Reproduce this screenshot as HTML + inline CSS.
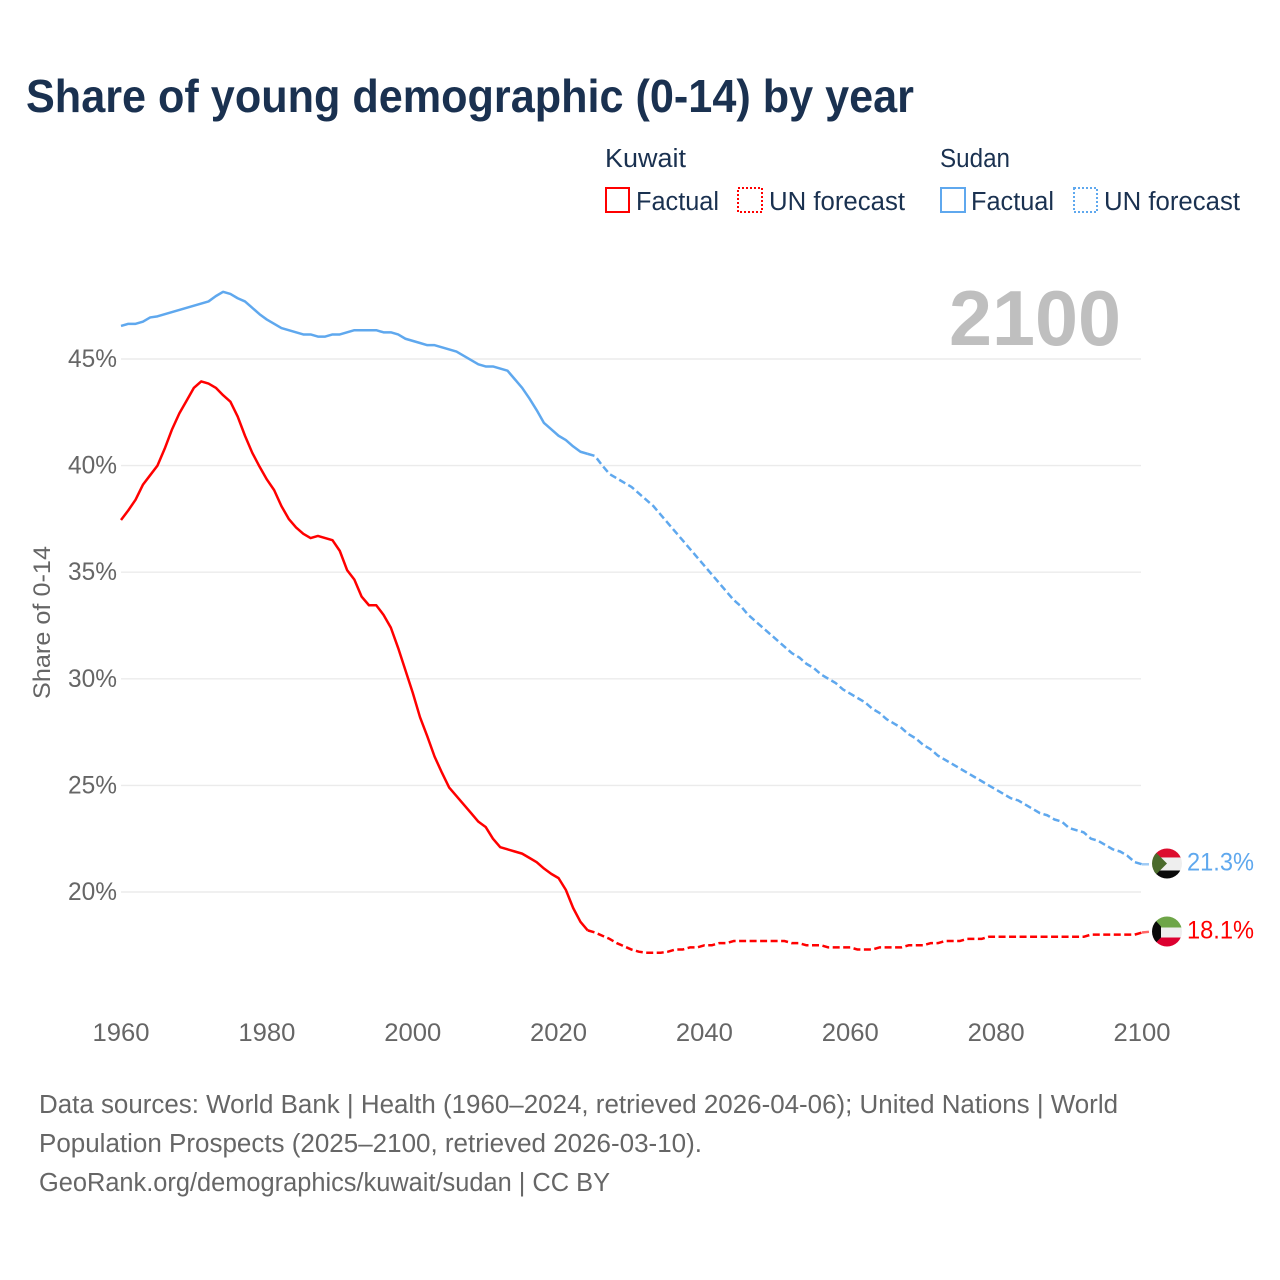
<!DOCTYPE html>
<html lang="en">
<head>
<meta charset="utf-8">
<title>Share of young demographic (0-14) by year</title>
<style>
html,body{margin:0;padding:0;background:#fff;width:1280px;height:1280px;overflow:hidden}
svg{display:block}
text{font-family:"Liberation Sans",sans-serif}
.legend{font-size:25.5px;fill:#1a3150}
.tick{font-size:25px;fill:#666}
.src{font-size:25.5px;fill:#666}
</style>
</head>
<body>
<svg id="chart" width="1280" height="1280" viewBox="0 0 1280 1280" xmlns="http://www.w3.org/2000/svg">
  <defs>
    <clipPath id="flag-clip"><circle cx="0" cy="0" r="15"/></clipPath>
  </defs>
  <rect width="1280" height="1280" fill="#fff"/>
  <text x="26" y="112" font-size="46" font-weight="700" fill="#1a3150" textLength="888" lengthAdjust="spacingAndGlyphs">Share of young demographic (0-14) by year</text>

  <g>
    <text class="legend" x="605" y="167" textLength="81" lengthAdjust="spacingAndGlyphs">Kuwait</text>
    <text class="legend" x="940" y="167" textLength="70" lengthAdjust="spacingAndGlyphs">Sudan</text>
    <g>
      <rect x="606" y="188" width="23" height="24" fill="none" stroke="#ff0000" stroke-width="2"/>
      <text class="legend" x="636" y="210" textLength="83" lengthAdjust="spacingAndGlyphs">Factual</text>
    </g>
    <g>
      <rect x="738" y="188" width="24" height="24" fill="none" stroke="#ff0000" stroke-width="2" stroke-dasharray="2 2"/>
      <text class="legend" x="769" y="210" textLength="136" lengthAdjust="spacingAndGlyphs">UN forecast</text>
    </g>
    <g>
      <rect x="941" y="188" width="24" height="24" fill="none" stroke="#5fa8ee" stroke-width="2"/>
      <text class="legend" x="971" y="210" textLength="83" lengthAdjust="spacingAndGlyphs">Factual</text>
    </g>
    <g>
      <rect x="1074" y="188" width="23" height="24" fill="none" stroke="#5fa8ee" stroke-width="2" stroke-dasharray="2 2"/>
      <text class="legend" x="1104" y="210" textLength="136" lengthAdjust="spacingAndGlyphs">UN forecast</text>
    </g>
  </g>

  <text x="949" y="345" font-size="78" font-weight="700" fill="#bfbfbf" textLength="172" lengthAdjust="spacingAndGlyphs">2100</text>

  <g id="grid"></g>
  <g id="y-labels"></g>
  <g id="x-labels"></g>
  <text transform="translate(50,699) rotate(-90)" font-size="24" fill="#666" textLength="153" lengthAdjust="spacingAndGlyphs">Share of 0-14</text>

  <g id="series"></g>

  <g id="flag-sudan">
    <g clip-path="url(#flag-clip)">
      <rect x="-16" y="-16" width="32" height="10" fill="#dc0d2e"/>
      <rect x="-16" y="-6" width="32" height="13" fill="#eeeeee"/>
      <rect x="-16" y="7" width="32" height="9" fill="#0a0a0a"/>
      <polygon points="-16,-16 0,0 -16,16" fill="#4b6b2c"/>
    </g>
  </g>
  <g id="flag-kuwait">
    <g clip-path="url(#flag-clip)">
      <rect x="-16" y="-16" width="32" height="12" fill="#6ea548"/>
      <rect x="-16" y="-4" width="32" height="10" fill="#eeeeee"/>
      <rect x="-16" y="6" width="32" height="10" fill="#dc0030"/>
      <polygon points="-16,-16 -6,-5 -6,6 -16,16" fill="#0a0a0a"/>
    </g>
  </g>
  <text id="value-sudan" x="1187" font-size="25" fill="#5fa8ee" textLength="67" lengthAdjust="spacingAndGlyphs"></text>
  <text id="value-kuwait" x="1187" font-size="25" fill="#ff0000" textLength="67" lengthAdjust="spacingAndGlyphs"></text>

  <g>
    <text class="src" x="39" y="1113" textLength="1079" lengthAdjust="spacingAndGlyphs">Data sources: World Bank | Health (1960–2024, retrieved 2026-04-06); United Nations | World</text>
    <text class="src" x="39" y="1152" textLength="663" lengthAdjust="spacingAndGlyphs">Population Prospects (2025–2100, retrieved 2026-03-10).</text>
    <text class="src" x="39" y="1191" textLength="571" lengthAdjust="spacingAndGlyphs">GeoRank.org/demographics/kuwait/sudan | CC BY</text>
  </g>
</svg>

<script>
const firstYear = 1960;
const forecastStartYear = 2025;
const xTicks = [1960, 1980, 2000, 2020, 2040, 2060, 2080, 2100];
const yTicks = [20, 25, 30, 35, 40, 45];

const kuwaitFactual = [
  37.45, 37.9, 38.4, 39.1, 39.55, 40.0, 40.8, 41.7, 42.45, 43.05,
  43.65, 43.95, 43.85, 43.65, 43.3, 43.0, 42.3, 41.4, 40.6, 39.95,
  39.35, 38.85, 38.1, 37.5, 37.1, 36.8, 36.6, 36.7, 36.6, 36.5,
  36.0, 35.1, 34.65, 33.85, 33.45, 33.45, 33.0, 32.4, 31.45, 30.4,
  29.35, 28.2, 27.3, 26.35, 25.6, 24.9, 24.5, 24.1, 23.7, 23.3,
  23.05, 22.5, 22.1, 22.0, 21.9, 21.8, 21.6, 21.4, 21.1, 20.85,
  20.65, 20.1, 19.25, 18.6, 18.2
];
const kuwaitForecast = [
  18.1, 17.95, 17.8, 17.6, 17.45, 17.3, 17.2, 17.15, 17.15, 17.15,
  17.2, 17.3, 17.3, 17.4, 17.4, 17.5, 17.5, 17.6, 17.6, 17.7,
  17.7, 17.7, 17.7, 17.7, 17.7, 17.7, 17.7, 17.6, 17.6, 17.5,
  17.5, 17.5, 17.4, 17.4, 17.4, 17.4, 17.3, 17.3, 17.3, 17.4,
  17.4, 17.4, 17.4, 17.5, 17.5, 17.5, 17.6, 17.6, 17.7, 17.7,
  17.7, 17.8, 17.8, 17.8, 17.9, 17.9, 17.9, 17.9, 17.9, 17.9,
  17.9, 17.9, 17.9, 17.9, 17.9, 17.9, 17.9, 17.9, 18.0, 18.0,
  18.0, 18.0, 18.0, 18.0, 18.0, 18.1
];
const sudanFactual = [
  46.55, 46.65, 46.65, 46.75, 46.95, 47.0, 47.1, 47.2, 47.3, 47.4,
  47.5, 47.6, 47.7, 47.95, 48.15, 48.05, 47.85, 47.7, 47.4, 47.1,
  46.85, 46.65, 46.45, 46.35, 46.25, 46.15, 46.15, 46.05, 46.05, 46.15,
  46.15, 46.25, 46.35, 46.35, 46.35, 46.35, 46.25, 46.25, 46.15, 45.95,
  45.85, 45.75, 45.65, 45.65, 45.55, 45.45, 45.35, 45.15, 44.95, 44.75,
  44.65, 44.65, 44.55, 44.45, 44.05, 43.65, 43.15, 42.6, 42.0, 41.7,
  41.4, 41.2, 40.9, 40.65, 40.55
];
const sudanForecast = [
  40.45, 40.0, 39.6, 39.4, 39.2, 39.0, 38.7, 38.4, 38.1, 37.7,
  37.3, 36.9, 36.5, 36.1, 35.7, 35.3, 34.9, 34.5, 34.1, 33.7,
  33.4, 33.0, 32.7, 32.4, 32.1, 31.8, 31.5, 31.2, 31.0, 30.7,
  30.5, 30.2, 30.0, 29.8, 29.5, 29.3, 29.1, 28.9, 28.6, 28.4,
  28.1, 27.9, 27.7, 27.4, 27.2, 26.9, 26.7, 26.4, 26.2, 26.0,
  25.8, 25.6, 25.4, 25.2, 25.0, 24.8, 24.6, 24.4, 24.3, 24.1,
  23.9, 23.7, 23.6, 23.4, 23.3, 23.0, 22.9, 22.8, 22.5, 22.4,
  22.2, 22.0, 21.9, 21.7, 21.4, 21.3
];

const NS = 'http://www.w3.org/2000/svg';
const X0 = 121, X1 = 1142, Y_AT_20 = 892, Y_AT_45 = 359;
function xScale(year) { return X0 + (year - 1960) * (X1 - X0) / 140; }
function yScale(v) { return Y_AT_20 + (v - 20) * (Y_AT_45 - Y_AT_20) / 25; }

function pathFrom(values, startYear) {
  return values.map(function (v, i) {
    return (i ? 'L' : 'M') + xScale(startYear + i).toFixed(2) + ' ' + yScale(v).toFixed(2);
  }).join(' ');
}
function addLine(name, d, color, dash, opacity) {
  const p = document.createElementNS(NS, 'path');
  
  
  p.setAttribute('d', d);
  p.setAttribute('fill', 'none');
  p.setAttribute('stroke', color);
  p.setAttribute('stroke-width', '2.5');
  p.setAttribute('stroke-linejoin', 'round');
  if (dash) p.setAttribute('stroke-dasharray', dash);
  if (opacity) p.setAttribute('stroke-opacity', opacity);
  document.getElementById('series').appendChild(p);
}

yTicks.forEach(function (t) {
  const g = document.createElementNS(NS, 'line');
  
  
  g.setAttribute('x1', X0);
  g.setAttribute('x2', X1 - 1);
  g.setAttribute('y1', yScale(t));
  g.setAttribute('y2', yScale(t));
  g.setAttribute('stroke', '#ebebeb');
  g.setAttribute('stroke-width', '1.4');
  document.getElementById('grid').appendChild(g);

  const l = document.createElementNS(NS, 'text');
  
  
  l.setAttribute('class', 'tick');
  l.setAttribute('x', 68);
  l.setAttribute('y', yScale(t) + 8);
  l.setAttribute('textLength', 49);
  l.setAttribute('lengthAdjust', 'spacingAndGlyphs');
  l.textContent = t + '%';
  document.getElementById('y-labels').appendChild(l);
});

xTicks.forEach(function (t) {
  const l = document.createElementNS(NS, 'text');
  
  
  l.setAttribute('class', 'tick');
  l.setAttribute('x', xScale(t) - 28.5);
  l.setAttribute('y', 1041);
  l.setAttribute('textLength', 57);
  l.setAttribute('lengthAdjust', 'spacingAndGlyphs');
  l.textContent = t;
  document.getElementById('x-labels').appendChild(l);
});

const RED = '#ff0000', BLUE = '#5fa8ee', DASH = '7 3.5';
const lastYear = forecastStartYear + kuwaitForecast.length - 1;
const kuwaitJoin = pathFrom([kuwaitFactual[kuwaitFactual.length - 1]].concat(kuwaitForecast), forecastStartYear - 1);
const sudanJoin = pathFrom([sudanFactual[sudanFactual.length - 1]].concat(sudanForecast), forecastStartYear - 1);
addLine('sudan-factual-line', pathFrom(sudanFactual, firstYear), BLUE);
addLine('sudan-forecast-line', sudanJoin, BLUE, DASH);
addLine('kuwait-factual-line', pathFrom(kuwaitFactual, firstYear), RED);
addLine('kuwait-forecast-line', kuwaitJoin, RED, DASH);

const kuwaitLast = kuwaitForecast[kuwaitForecast.length - 1];
const sudanLast = sudanForecast[sudanForecast.length - 1];
addLine('kuwait-end-connector', 'M' + xScale(lastYear) + ' ' + yScale(kuwaitLast) + ' L1152 ' + (yScale(kuwaitLast) - 1), RED, DASH, '0.6');
addLine('sudan-end-connector', 'M' + xScale(lastYear) + ' ' + yScale(sudanLast) + ' L1152 ' + yScale(sudanLast), BLUE, DASH, '0.6');

const FLAG_X = 1167;
document.getElementById('flag-sudan').setAttribute('transform', 'translate(' + FLAG_X + ',' + (yScale(sudanLast) - 0.8) + ')');
document.getElementById('flag-kuwait').setAttribute('transform', 'translate(' + FLAG_X + ',' + (yScale(kuwaitLast) - 1) + ')');
const vs = document.getElementById('value-sudan');
vs.setAttribute('y', yScale(sudanLast) + 6);
vs.textContent = sudanLast.toFixed(1) + '%';
const vk = document.getElementById('value-kuwait');
vk.setAttribute('y', yScale(kuwaitLast) + 6);
vk.textContent = kuwaitLast.toFixed(1) + '%';
</script>
</body>
</html>
